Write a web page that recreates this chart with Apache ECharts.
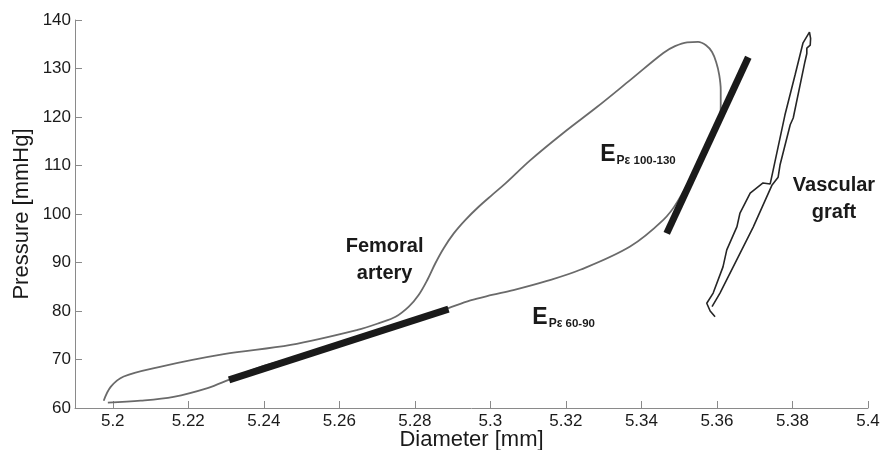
<!DOCTYPE html>
<html>
<head>
<meta charset="utf-8">
<script src="https://cdn.jsdelivr.net/npm/echarts@6/dist/echarts.min.js"></script>
<style>
html,body{margin:0;padding:0;background:#fff;}
#chart{width:882px;height:450px;}
</style>
</head>
<body>
<div id="chart"></div>
<script>
// ---- data ----
const xTicks = [5.2, 5.22, 5.24, 5.26, 5.28, 5.3, 5.32, 5.34, 5.36, 5.38, 5.4];
const yTicks = [60, 70, 80, 90, 100, 110, 120, 130, 140];

// Femoral artery pressure-diameter loop (diameter mm, pressure mmHg)
const femoralDiameter = [5.1987, 5.2074, 5.2161, 5.2251, 5.2307, 5.2392, 5.2497, 5.2603, 5.2762, 5.2889, 5.2947, 5.3004, 5.3061, 5.3150, 5.3238, 5.3370, 5.3458, 5.3495, 5.3560, 5.3608, 5.3610, 5.3610, 5.3606, 5.3598, 5.3587, 5.3571, 5.3550, 5.3521, 5.3489, 5.3458, 5.3370, 5.3283, 5.3193, 5.3106, 5.3040, 5.3004, 5.2969, 5.2934, 5.2903, 5.2876, 5.2854, 5.2833, 5.2810, 5.2784, 5.2749, 5.2709, 5.2648, 5.2471, 5.2294, 5.2119, 5.2029, 5.1995, 5.1976];
const femoralPressure = [61.1, 61.5, 62.3, 64.1, 65.8, 68.5, 70.7, 73.2, 77.1, 80.6, 82.2, 83.3, 84.3, 86.2, 88.5, 93.3, 98.8, 102.5, 112.0, 120.0, 122.5, 125.6, 128.7, 131.3, 133.4, 134.8, 135.5, 135.4, 134.6, 133.2, 127.6, 122.1, 116.7, 111.1, 106.3, 103.9, 101.5, 98.8, 96.0, 92.9, 89.8, 86.4, 83.3, 80.9, 78.8, 77.6, 76.1, 73.0, 71.1, 68.4, 66.5, 64.4, 61.5];

// Vascular graft loop
const graftDiameter = [5.3595, 5.3582, 5.3573, 5.3590, 5.3616, 5.3626, 5.3653, 5.3661, 5.3688, 5.3722, 5.3741, 5.3749, 5.3780, 5.3807, 5.3828, 5.3845, 5.3848, 5.3847, 5.3838, 5.3838, 5.3833, 5.3802, 5.3794, 5.3767, 5.3762, 5.3746, 5.3696, 5.3643, 5.3608, 5.3587];
const graftPressure = [78.8, 80.0, 81.6, 83.7, 89.1, 92.6, 97.4, 100.2, 104.3, 106.4, 106.2, 109.1, 120.4, 128.7, 135.3, 137.5, 136.2, 134.8, 134.2, 133.1, 131.4, 119.8, 118.4, 110.1, 107.6, 106.0, 97.3, 89.1, 83.7, 80.9];

// Fitted slope segments
const slope6090Diameter = [5.2308, 5.2889];
const slope6090Pressure = [65.8, 80.4];
const slope100130Diameter = [5.3467, 5.3683];
const slope100130Pressure = [96.0, 132.3];

// Annotation anchors
const annFemoral = [5.2720, 90.6];
const annGraft = [5.3910, 103.0];
const annE6090 = [5.3111, 79.0];
const annE100130 = [5.3291, 112.6];

// ---- chart ----
const zip = (a, b) => a.map((v, i) => [v, b[i]]);
const FONT = "'Liberation Sans', Arial, sans-serif";
const TXT = '#1a1a1a';
const fmtX = v => String(+(+v).toFixed(2));

const chart = echarts.init(document.getElementById('chart'), null, {renderer: 'canvas'});

const eRich = {
  e: {fontSize: 23, fontWeight: 'bold', color: TXT, fontFamily: FONT, verticalAlign: 'bottom'},
  s: {fontSize: 12, fontWeight: 'bold', color: TXT, fontFamily: FONT, verticalAlign: 'bottom', padding: [0, 0, 0, 1]},
  n: {fontSize: 11.5, fontWeight: 'bold', color: TXT, fontFamily: FONT, verticalAlign: 'bottom'}
};

function annotation(pos, text, align, rich) {
  return {
    type: 'scatter',
    symbolSize: 0,
    silent: true,
    data: [pos],
    z: 5,
    itemStyle: {opacity: 1},
    label: {
      show: true,
      position: [0, 0],
      align: align,
      verticalAlign: 'middle',
      formatter: text,
      fontFamily: FONT,
      fontSize: 20,
      fontWeight: 'bold',
      color: TXT,
      opacity: 1,
      lineHeight: 27,
      rich: rich || {}
    }
  };
}

chart.setOption({
  animation: false,
  backgroundColor: '#fff',
  grid: {left: 75, right: 14, top: 20, bottom: 42, outerBoundsMode: 'none', containLabel: false},
  xAxis: {
    type: 'value',
    min: 5.19,
    max: 5.4,
    name: 'Diameter [mm]',
    nameLocation: 'middle',
    nameGap: 21,
    nameMoveOverlap: false,
    nameTextStyle: {fontFamily: FONT, fontSize: 22, color: TXT},
    axisLine: {show: true, lineStyle: {color: '#8a8a8a', width: 1}},
    axisTick: {show: true, inside: true, length: 7, customValues: xTicks, lineStyle: {color: '#8a8a8a'}},
    axisLabel: {show: true, customValues: xTicks, formatter: fmtX, fontFamily: FONT, fontSize: 17, color: TXT, margin: 5},
    splitLine: {show: false}
  },
  yAxis: {
    type: 'value',
    min: 60,
    max: 140,
    interval: 10,
    name: 'Pressure [mmHg]',
    nameLocation: 'middle',
    nameGap: 42,
    nameMoveOverlap: false,
    nameTextStyle: {fontFamily: FONT, fontSize: 22, color: TXT},
    axisLine: {show: true, lineStyle: {color: '#8a8a8a', width: 1}},
    axisTick: {show: true, inside: true, length: 7, lineStyle: {color: '#8a8a8a'}},
    axisLabel: {show: true, fontFamily: FONT, fontSize: 17, color: TXT, margin: 4},
    splitLine: {show: false}
  },
  series: [
    {
      type: 'line',
      name: 'Femoral artery',
      data: zip(femoralDiameter, femoralPressure),
      smooth: 0.35,
      showSymbol: false,
      lineStyle: {color: '#6a6a6a', width: 1.8},
      z: 2
    },
    {
      type: 'line',
      name: 'Vascular graft',
      data: zip(graftDiameter, graftPressure),
      smooth: false,
      showSymbol: false,
      lineStyle: {color: '#262626', width: 1.6},
      z: 2
    },
    {
      type: 'line',
      name: 'E 60-90',
      data: zip(slope6090Diameter, slope6090Pressure),
      showSymbol: false,
      lineStyle: {color: '#1a1a1a', width: 7, cap: 'butt'},
      z: 3
    },
    {
      type: 'line',
      name: 'E 100-130',
      data: zip(slope100130Diameter, slope100130Pressure),
      showSymbol: false,
      lineStyle: {color: '#1a1a1a', width: 7, cap: 'butt'},
      z: 3
    },
    annotation(annFemoral, 'Femoral\nartery', 'center'),
    annotation(annGraft, 'Vascular\ngraft', 'center'),
    annotation(annE6090, '{e|E}{s|Pε}{n| 60-90}', 'left', eRich),
    annotation(annE100130, '{e|E}{s|Pε}{n| 100-130}', 'left', eRich)
  ]
});
</script>
</body>
</html>
